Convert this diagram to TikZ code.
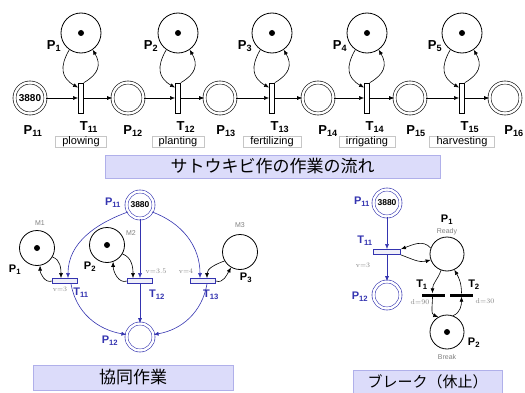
\documentclass[tikz,border=0pt]{standalone}
\usepackage{fontspec}
\setsansfont{Liberation Sans}
\newfontfamily\jpfont{Noto Sans CJK JP}
\usetikzlibrary{arrows.meta}
\definecolor{petriblue}{HTML}{3434B0}
\definecolor{titlefill}{HTML}{DCDCFA}
\definecolor{titleline}{HTML}{B0B0EA}
\begin{document}
\begin{tikzpicture}[x=1pt,y=1pt,
  place/.style={circle,draw,double,double distance=2.4pt,semithick,minimum size=31pt,inner sep=0pt},
  bplace/.style={place,draw=petriblue,minimum size=27pt},
  resource/.style={circle,draw,thick,inner sep=0pt,minimum size=#1},
  resource/.default=40pt,
  vtrans/.style={draw,thick,fill=white,minimum width=5pt,minimum height=30pt,inner sep=0pt},
  htrans/.style={draw=petriblue,thick,fill=petriblue!8,minimum width=25pt,minimum height=5pt,inner sep=0pt},
  tbar/.style={fill=black,minimum width=23pt,minimum height=3pt,inner sep=0pt},
  flow/.style={semithick,-{Latex[length=5pt,width=4pt]}},
  bflow/.style={flow,draw=petriblue},
  lbl/.style={font=\sffamily\bfseries\fontsize{13}{13}\selectfont},
  slbl/.style={font=\sffamily\bfseries\fontsize{11}{11}\selectfont},
  blbl/.style={slbl,text=petriblue},
  note/.style={font=\sffamily\fontsize{7}{7}\selectfont,text=gray},
  rate/.style={font=\fontsize{7}{7}\selectfont,text=gray},
  count/.style={font=\sffamily\bfseries\fontsize{10}{10}\selectfont},
  jobbox/.style={draw=gray!45,font=\sffamily\fontsize{11}{11}\selectfont,inner xsep=7pt,inner ysep=0.5pt,minimum height=11pt},
  titlebox/.style={draw=titleline,fill=titlefill,inner sep=0pt}]
\useasboundingbox (0,0) rectangle (525,392);

% top row
\node[place] (P11) at (30,294) {};
\node[count] (c11) at (P11) {3880};
\foreach \j/\x in {2/128,3/220,4/318,5/410,6/505}
  \node[place] (P1\j) at (\x,294) {};
\foreach \j/\x in {1/33,2/133,3/226,4/328,5/416,6/514}
  \node[lbl] (lP1\j) at (\x,261) {P\textsubscript{1\j}};
\foreach \i/\x/\job in {1/81/plowing,2/178/planting,3/272/fertilizing,4/367/irrigating,5/462/harvesting}{
  \pgfmathtruncatemacro\n{\i+1}
  \node[vtrans] (T1\i) at (\x,294) {};
  \node[resource] (P\i) at (\x,359) {};
  \fill (P\i) circle (3pt);
  \node[lbl] (lP\i) at (\x-27,346) {P\textsubscript{\i}};
  \node[lbl] (lT1\i) at (\x+8,265) {T\textsubscript{1\i}};
  \node[jobbox] (job\i) at (\x,250) {\job};
  \draw[flow] (P1\i) -- (T1\i);
  \draw[flow] (T1\i) -- (P1\n);
  \draw[flow] (P\i.235) to[out=240,in=150,looseness=1.3] ([yshift=-5pt]T1\i.north west);
  \draw[flow] (T1\i.north east) to[out=30,in=300,looseness=1.3] (P\i.305);
}
\node[titlebox,minimum width=335pt,minimum height=23pt] (flowtitle) at (272.5,225.5)
  {\jpfont\fontsize{17}{17}\selectfont サトウキビ作の作業の流れ};

% cooperative work
\node[bplace] (cP11) at (140,187) {};
\node[count,font=\sffamily\bfseries\fontsize{8.5}{8.5}\selectfont] (cc11) at (cP11) {3880};
\node[bplace] (cP12) at (140,55) {};
\node[resource=35pt] (cP1) at (37,144) {};
\node[resource=35pt] (cP2) at (107,147) {};
\node[resource=35pt] (cP3) at (240,140) {};
\fill (cP1) circle (3pt);
\fill (cP2) circle (3pt);
\node[htrans] (cT11) at (65,111) {};
\node[htrans] (cT12) at (140,111) {};
\node[htrans] (cT13) at (203,111) {};
\node[blbl] (lcP11) at (113,189) {P\textsubscript{11}};
\node[blbl] (lcP12) at (110,51) {P\textsubscript{12}};
\node[blbl] (lcT11) at (81,99) {T\textsubscript{11}};
\node[blbl] (lcT12) at (157,97) {T\textsubscript{12}};
\node[blbl] (lcT13) at (211,97) {T\textsubscript{13}};
\node[slbl] (lcP1) at (15,122) {P\textsubscript{1}};
\node[slbl] (lcP2) at (90,125) {P\textsubscript{2}};
\node[slbl] (lcP3) at (246,114) {P\textsubscript{3}};
\node[note] (m1) at (40,169) {M1};
\node[note] (m2) at (131,159) {M2};
\node[note] (m3) at (240,167) {M3};
\node[rate] (v1) at (60,103) {v=3};
\node[rate] (v2) at (156,121) {v=3.5};
\node[rate] (v3) at (186,121) {v=4};
\draw[bflow] (cP11.210) to[out=200,in=90] ([xshift=3pt]cT11.north);
\draw[bflow] (cP11) -- (cT12);
\draw[bflow] (cP11.330) to[out=-20,in=90] ([xshift=-3pt]cT13.north);
\draw[bflow] ([xshift=6pt]cT11.south) to[out=-80,in=170] (cP12.170);
\draw[bflow] (cT12) -- (cP12);
\draw[bflow] ([xshift=4pt]cT13.south) to[out=-100,in=10] (cP12.10);
\draw[flow] (cP1.-30) to[out=-20,in=90] ([xshift=-4pt]cT11.north);
\draw[flow] (cT11.west) to[out=200,in=-90] (cP1.-80);
\draw[flow] (cP2.-30) to[out=-20,in=90] ([xshift=-7pt]cT12.north);
\draw[flow] (cT12.west) to[out=200,in=-90] (cP2.-70);
\draw[flow] (cP3.210) to[out=200,in=90] ([xshift=4pt]cT13.north);
\draw[flow] (cT13.east) to[out=-20,in=-120] (cP3.240);
\node[titlebox,minimum width=200pt,minimum height=25pt] (cooptitle) at (133,14.5)
  {\jpfont\fontsize{17}{17}\selectfont 協同作業};

% break
\node[bplace] (bP11) at (387,189) {};
\node[count,font=\sffamily\bfseries\fontsize{8.5}{8.5}\selectfont] (bc11) at (bP11) {3880};
\node[bplace] (bP12) at (387,97) {};
\node[htrans,minimum width=27pt] (bT11) at (387,140) {};
\node[resource=34pt] (bP1) at (447,138) {};
\node[resource=34pt] (bP2) at (447,60) {};
\fill (bP2) circle (3pt);
\node[tbar] (bT1) at (433.5,97) {};
\node[tbar] (bT2) at (461.5,97) {};
\node[blbl] (lbP11) at (362,190) {P\textsubscript{11}};
\node[blbl] (lbP12) at (360,95) {P\textsubscript{12}};
\node[blbl] (lbT11) at (365,151) {T\textsubscript{11}};
\node[rate] (bv1) at (363,127) {v=3};
\node[slbl] (lbP1) at (447,172) {P\textsubscript{1}};
\node[note] (ready) at (447,160) {Ready};
\node[slbl] (lbT1) at (422,107) {T\textsubscript{1}};
\node[slbl] (lbT2) at (474,107) {T\textsubscript{2}};
\node[rate] (d1) at (420,90) {d=90};
\node[rate] (d2) at (485,91) {d=30};
\node[slbl] (lbP2) at (474,49) {P\textsubscript{2}};
\node[note] (brk) at (447,35) {Break};
\draw[bflow] (bP11) -- (bT11);
\draw[bflow] (bT11) -- (bP12);
\draw[flow] (bP1.160) to[out=130,in=20] (bT11.north east);
\draw[flow] (bT11.south east) to[out=-20,in=195] (bP1.200);
\draw[flow] (bP1.-110) to[out=-110,in=90] ([xshift=-1pt]bT1.north);
\draw[flow] ([xshift=-1pt]bT1.south) to[out=-90,in=160] (bP2.120);
\draw[flow] (bP2.70) to[out=20,in=-90] (bT2.south);
\draw[flow] (bT2.north) to[out=90,in=-60] (bP1.-65);
\node[titlebox,minimum width=149pt,minimum height=23pt] (brktitle) at (427.5,10.5)
  {\jpfont\fontsize{15}{15}\selectfont ブレーク（休止）};
\end{tikzpicture}
\end{document}
